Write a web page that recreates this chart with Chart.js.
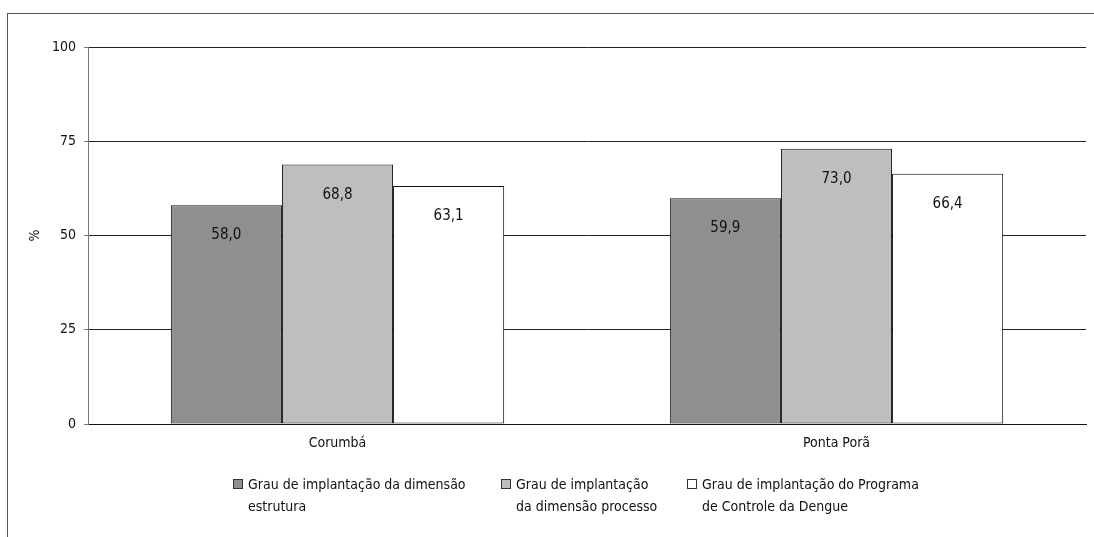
<!DOCTYPE html>
<html>
<head>
<meta charset="utf-8">
<script src="https://cdn.jsdelivr.net/npm/chart.js@4"></script>
<style>
  html, body { margin: 0; padding: 0; background: #fff; }
  #wrap { position: relative; width: 1094px; height: 537px; overflow: hidden; }
  #frame { position: absolute; left: 7px; top: 13px; width: 1100px; height: 600px;
           border-left: 1px solid #555; border-top: 1px solid #555; }
  canvas { position: absolute; left: 0; top: 0; }
  .leg { position: absolute; font-family: "Liberation Sans Narrow", "DejaVu Sans Condensed", sans-serif;
         font-size: 14px; line-height: 22px; color: #111; white-space: nowrap; }
  .box { position: absolute; width: 8px; height: 8px; border: 1px solid #333; }
</style>
</head>
<body>
<div id="wrap">
  <div id="frame"></div>
  <canvas id="chart" width="1094" height="537"></canvas>
  <div id="legend"></div>
</div>
<script>
    // Data
    const categories = ['Corumbá', 'Ponta Porã'];
    const seriesNames = [
        ['Grau de implantação da dimensão', 'estrutura'],
        ['Grau de implantação', 'da dimensão processo'],
        ['Grau de implantação do Programa', 'de Controle da Dengue']
    ];
    const estrutura = [58.0, 59.9];
    const processo = [68.8, 73.0];
    const programa = [63.1, 66.4];
    const yTicks = [0, 25, 50, 75, 100];

    const colors = ['#8e8f91', '#bdbebf', '#ffffff'];
    const fontFamily = '"Liberation Sans Narrow", "DejaVu Sans Condensed", sans-serif';

    // Value labels drawn inside the bars
    const valueLabels = {
        id: 'valueLabels',
        afterDatasetsDraw(chart) {
            const ctx = chart.ctx;
            ctx.save();
            ctx.font = '15px ' + fontFamily;
            ctx.fillStyle = '#111';
            ctx.textAlign = 'center';
            ctx.textBaseline = 'middle';
            chart.data.datasets.forEach((ds, i) => {
                chart.getDatasetMeta(i).data.forEach((bar, j) => {
                    const txt = ds.data[j].toFixed(1).replace('.', ',');
                    ctx.fillText(txt, bar.x, bar.y + 30);
                });
            });
            ctx.restore();
        }
    };

    const ctx = document.getElementById('chart').getContext('2d');
    new Chart(ctx, {
        type: 'bar',
        data: {
            labels: categories,
            datasets: [
                { label: seriesNames[0].join(' '), data: estrutura, backgroundColor: colors[0] },
                { label: seriesNames[1].join(' '), data: processo, backgroundColor: colors[1] },
                { label: seriesNames[2].join(' '), data: programa, backgroundColor: colors[2] }
            ]
        },
        options: {
            responsive: false,
            animation: false,
            layout: { padding: { left: 0, right: 8, top: 47, bottom: 83 } },
            datasets: {
                bar: {
                    borderColor: '#111',
                    borderWidth: 1,
                    borderSkipped: false,
                    categoryPercentage: 0.668,
                    barPercentage: 1.0
                }
            },
            plugins: {
                legend: { display: false },
                tooltip: { enabled: false }
            },
            scales: {
                x: {
                    grid: { display: false },
                    border: { color: '#111', width: 1 },
                    ticks: { color: '#111', font: { family: fontFamily, size: 14 }, padding: 3 },
                    afterFit: function(scale) { scale.height = 30; }
                },
                y: {
                    min: 0,
                    max: 100,
                    afterBuildTicks: function(scale) {
                        scale.ticks = yTicks.map(v => ({ value: v }));
                    },
                    grid: { color: '#222', lineWidth: 1, tickLength: 4, tickColor: '#777' },
                    border: { color: '#777', width: 1 },
                    ticks: { color: '#111', font: { family: fontFamily, size: 14 }, padding: 8 },
                    title: {
                        display: true,
                        text: '%',
                        color: '#111',
                        font: { family: fontFamily, size: 14 },
                        padding: { top: 27, bottom: 0 }
                    },
                    afterFit: function(scale) { scale.width = 88; }
                }
            }
        },
        plugins: [valueLabels]
    });

    // Two-line legend as HTML
    const legendPos = [233, 501, 687];
    const legend = document.getElementById('legend');
    seriesNames.forEach((lines, i) => {
        const box = document.createElement('div');
        box.className = 'box';
        box.style.left = legendPos[i] + 'px';
        box.style.top = '479px';
        box.style.background = colors[i];
        legend.appendChild(box);
        const txt = document.createElement('div');
        txt.className = 'leg';
        txt.style.left = (legendPos[i] + 15) + 'px';
        txt.style.top = '473px';
        txt.innerHTML = lines.join('<br>');
        legend.appendChild(txt);
    });
</script>
</body>
</html>
